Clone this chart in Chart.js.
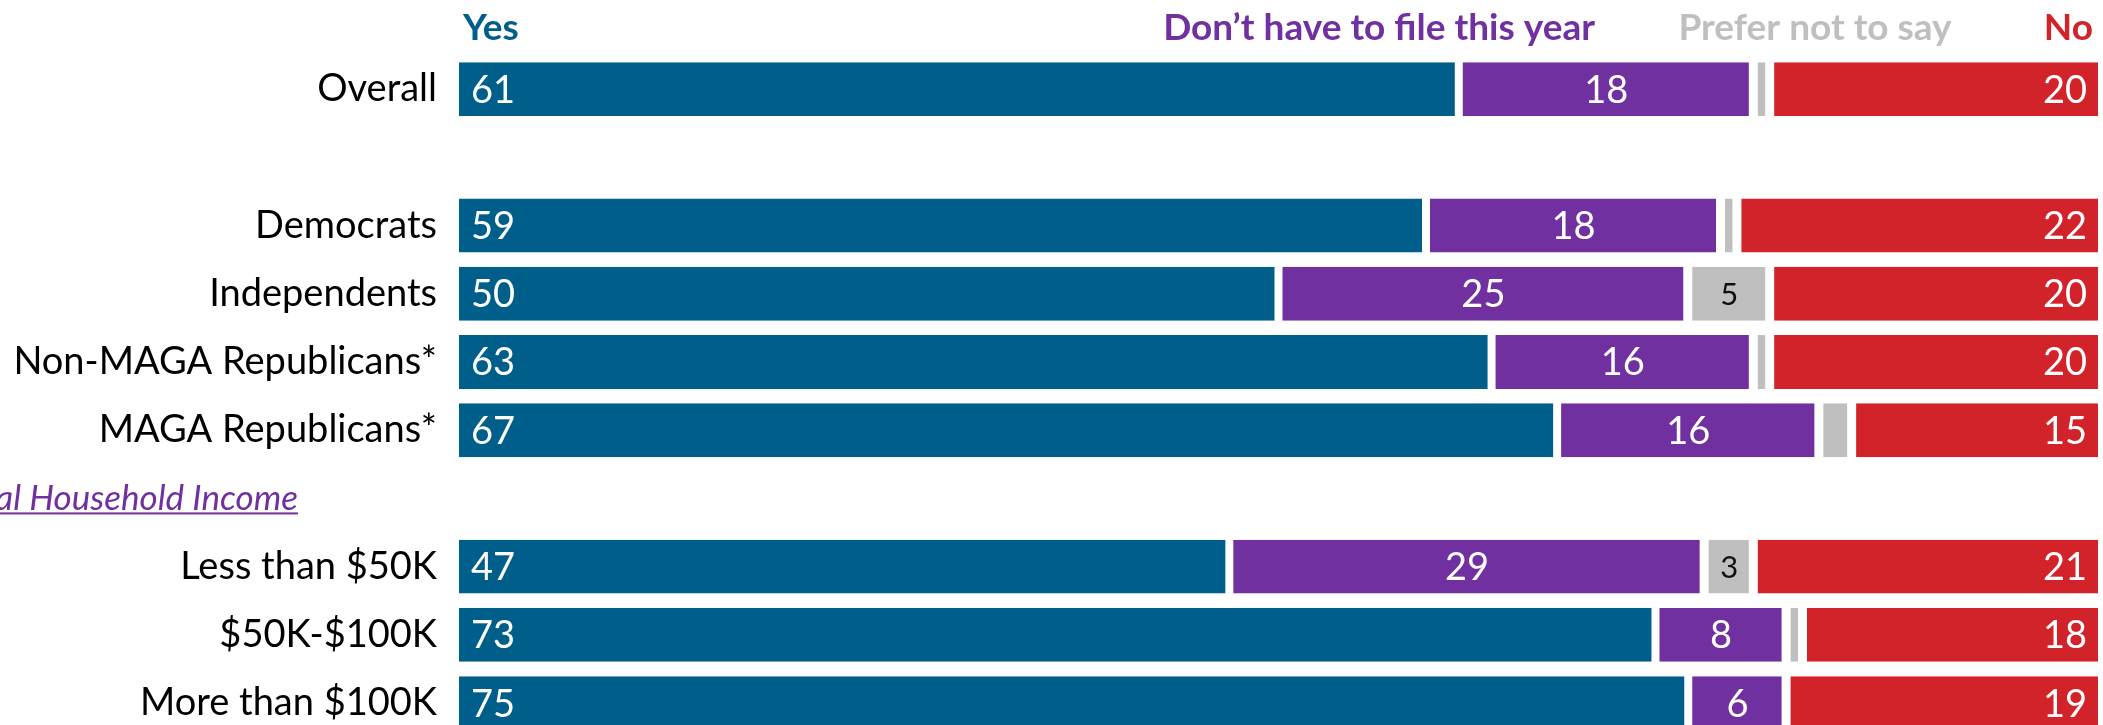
<!DOCTYPE html>
<html>
<head>
<meta charset="utf-8">
<script src="https://cdn.jsdelivr.net/npm/chart.js@4.4.1/dist/chart.umd.min.js"></script>
<style>
  html, body { margin: 0; padding: 0; background: #fff; overflow: hidden; }
  #chart { display: block; width: 2103px; height: 782px; }
</style>
</head>
<body>
<canvas id="chart" width="2103" height="782"></canvas>
<script>
// rows, blank entries are spacer rows
const groups = ['Overall', '', 'Democrats', 'Independents', 'Non-MAGA Republicans*', 'MAGA Republicans*', '', 'Less than $50K', '$50K-$100K', 'More than $100K'];
const yesValues = [61, null, 59, 50, 63, 67, null, 47, 73, 75];
const noFileValues = [18, null, 18, 25, 16, 16, null, 29, 8, 6];
const preferValues = [1, null, 1, 5, 1, 2, null, 3, 1, 0];
const noValues = [20, null, 22, 20, 20, 15, null, 21, 18, 19];
const seriesNames = ['Yes', 'Don\u2019t have to file this year', 'Prefer not to say', 'No'];
const sectionTitle = 'Annual Household Income';

const BLUE = '#005f8a', PURPLE = '#7030a0', GREY = '#bfbfbf', RED = '#d2232a';
const FONT = 'Lato';

// value labels inside the bars + header row + section title
const annotate = {
    id: 'annotate',
    afterDatasetsDraw(chart) {
        const ctx = chart.ctx;
        ctx.save();
        ctx.textBaseline = 'alphabetic';
        chart.data.datasets.forEach((ds, di) => {
            const meta = chart.getDatasetMeta(di);
            meta.data.forEach((bar, i) => {
                const v = ds.data[i];
                if (v === null || v === undefined) return;
                const left = Math.min(bar.x, bar.base), right = Math.max(bar.x, bar.base);
                if (di === 2) {
                    if (v < 3) return;
                    ctx.font = '31px ' + FONT;
                    ctx.fillStyle = '#111';
                    ctx.textAlign = 'center';
                    ctx.fillText(v, (left + right) / 2, bar.y + 11);
                    return;
                }
                ctx.font = '38px ' + FONT;
                ctx.fillStyle = '#fff';
                if (di === 0) {
                    ctx.textAlign = 'left';
                    ctx.fillText(v, left + 12, bar.y + 13.5);
                } else if (di === 1) {
                    ctx.textAlign = 'center';
                    ctx.fillText(v, (left + right) / 2, bar.y + 13.5);
                } else {
                    ctx.textAlign = 'right';
                    ctx.fillText(v, right - 11, bar.y + 13.5);
                }
            });
        });
        ctx.restore();
    },
    afterDraw(chart) {
        const ctx = chart.ctx;
        const area = chart.chartArea;
        ctx.save();
        ctx.textBaseline = 'alphabetic';
        ctx.font = 'bold 37px ' + FONT;
        const heads = [
            [seriesNames[0], 'left', area.left + 4, BLUE],
            [seriesNames[1], 'right', 1595, PURPLE],
            [seriesNames[2], 'center', 1815, GREY],
            [seriesNames[3], 'right', area.right - 5, RED]
        ];
        heads.forEach(h => {
            ctx.textAlign = h[1];
            ctx.fillStyle = h[3];
            ctx.fillText(h[0], h[2], 40);
        });

        // section title, partly cut off at the left edge
        const y = chart.scales.y.getPixelForValue(6) + 12;
        ctx.font = 'italic 35px ' + FONT;
        ctx.fillStyle = PURPLE;
        ctx.textAlign = 'right';
        const xr = 298;
        ctx.fillText(sectionTitle, xr, y);
        const w = ctx.measureText(sectionTitle).width;
        ctx.fillRect(xr - w, y + 2, w, 2);
        ctx.restore();
    }
};

function makeSet(label, data, color, border) {
    return {
        label: label,
        data: data,
        backgroundColor: color,
        borderColor: '#ffffff',
        borderWidth: border,
        borderSkipped: false,
        barPercentage: 0.79,
        categoryPercentage: 1.0
    };
}

// canvas is taller than the window: the last row runs off the bottom edge
const ctx = document.getElementById('chart').getContext('2d');
const chart = new Chart(ctx, {
    type: 'bar',
    data: {
        labels: groups,
        datasets: [
            makeSet(seriesNames[0], yesValues, BLUE, {left: 0, right: 4, top: 0, bottom: 0}),
            makeSet(seriesNames[1], noFileValues, PURPLE, {left: 4, right: 5, top: 0, bottom: 0}),
            makeSet(seriesNames[2], preferValues, GREY, {left: 4, right: 5, top: 0, bottom: 0}),
            makeSet(seriesNames[3], noValues, RED, {left: 4, right: 0, top: 0, bottom: 0})
        ]
    },
    options: {
        indexAxis: 'y',
        responsive: false,
        animation: false,
        layout: {
            padding: {left: 0, right: 5, top: 55, bottom: 0}
        },
        plugins: {
            legend: { display: false },
            tooltip: { enabled: false }
        },
        scales: {
            x: {
                stacked: true,
                min: 0,
                max: 100,
                display: false
            },
            y: {
                stacked: true,
                grid: { display: false, drawTicks: false },
                border: { display: false },
                ticks: {
                    color: '#000',
                    autoSkip: false,
                    padding: 22,
                    font: { family: FONT, size: 38 }
                },
                afterFit: function(scale) {
                    scale.width = 459;
                }
            }
        }
    },
    plugins: [annotate]
});
</script>
</body>
</html>
